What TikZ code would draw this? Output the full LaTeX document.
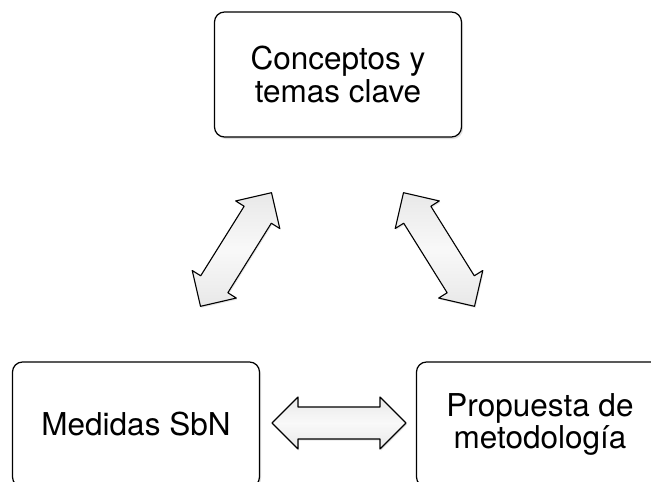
\documentclass[tikz,border=0pt]{standalone}
\usepackage{fontspec}
\setmainfont{TeX Gyre Heros}
\usetikzlibrary{shadows}
\tikzset{
  box/.style={draw=black, line width=1.2pt, rounded corners=10pt, fill=white,
    minimum width=247pt, minimum height=125pt, inner sep=0pt, align=center,
    font=\fontsize{31.5}{32.5}\selectfont,
    drop shadow={opacity=0.25, shadow xshift=1.5pt, shadow yshift=-2pt}},
  arrowlook/.style={draw=black, line width=1.1pt, line join=round,
    top color=gray!18, bottom color=gray!18, middle color=gray!5,
    drop shadow={opacity=0.2, shadow xshift=1pt, shadow yshift=-1.5pt}},
  blockarrow/.pic={
    \path[arrowlook] (-67pt,0pt) -- (-41pt,26pt) -- (-41pt,16pt) -- (41pt,16pt)
      -- (41pt,26pt) -- (67pt,0pt) -- (41pt,-26pt) -- (41pt,-16pt)
      -- (-41pt,-16pt) -- (-41pt,-26pt) -- cycle;
  }
}
\begin{document}
\begin{tikzpicture}
\useasboundingbox (0pt,0pt) rectangle (651pt,-482pt);
\node[box] (top) at (338pt,-74.5pt) {Conceptos y\\temas clave};
\node[box] (left) at (136pt,-424.5pt) {Medidas SbN};
\node[box] (right) at (540pt,-424.5pt) {Propuesta de\\metodología};
\pic[rotate=58] (a1) at (236pt,-249.5pt) {blockarrow};
\pic[rotate=-58] (a2) at (439pt,-249.5pt) {blockarrow};
\pic (a3) at (339pt,-423pt) {blockarrow};
\end{tikzpicture}
\end{document}
